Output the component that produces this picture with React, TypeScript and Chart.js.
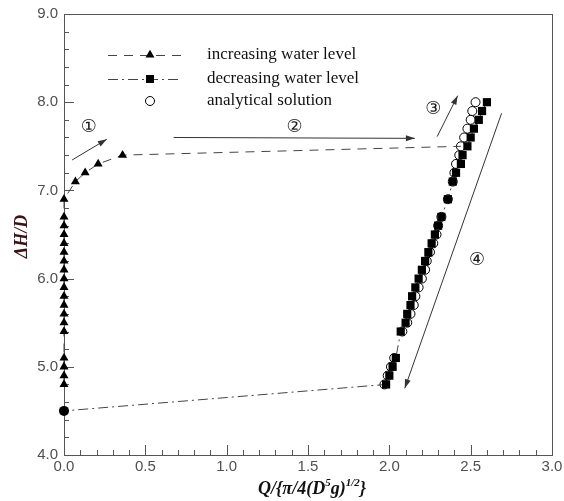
import React, { useEffect, useRef } from "react";
import { Chart, registerables } from "chart.js";

Chart.register(...registerables);

// ---- data ----
const increasingX = [0, 0, 0, 0, 0, 0, 0, 0, 0, 0, 0, 0, 0, 0, 0, 0, 0, 0, 0, 0.07, 0.13, 0.21, 0.36, 1.2, 2.44];
const increasingY = [4.8, 4.9, 5.0, 5.1, 5.4, 5.5, 5.6, 5.7, 5.8, 5.9, 6.0, 6.1, 6.2, 6.3, 6.4, 6.5, 6.6, 6.7, 6.9, 7.1, 7.2, 7.3, 7.4, 7.44, 7.5];
const increasingMarker = [1, 1, 1, 1, 1, 1, 1, 1, 1, 1, 1, 1, 1, 1, 1, 1, 1, 1, 1, 1, 1, 1, 1, 0, 0];

const decreasingX = [2.60, 2.57, 2.55, 2.52, 2.50, 2.48, 2.45, 2.44, 2.41, 2.39, 2.36, 2.32, 2.30, 2.28, 2.26, 2.24, 2.22, 2.20, 2.18, 2.16, 2.14, 2.13, 2.11, 2.10, 2.07, 2.04, 2.02, 2.00, 1.98, 0];
const decreasingY = [8.0, 7.9, 7.8, 7.7, 7.6, 7.5, 7.4, 7.3, 7.2, 7.1, 6.9, 6.7, 6.6, 6.5, 6.4, 6.3, 6.2, 6.1, 6.0, 5.9, 5.8, 5.7, 5.6, 5.5, 5.4, 5.1, 5.0, 4.9, 4.8, 4.5];

const analyticalX = [1.97, 1.99, 2.01, 2.03, 2.08, 2.11, 2.13, 2.15, 2.16, 2.18, 2.20, 2.22, 2.23, 2.25, 2.27, 2.29, 2.30, 2.32, 2.36, 2.39, 2.40, 2.41, 2.43, 2.44, 2.46, 2.48, 2.50, 2.51, 2.53];
const analyticalY = [4.8, 4.9, 5.0, 5.1, 5.4, 5.5, 5.6, 5.7, 5.8, 5.9, 6.0, 6.1, 6.2, 6.3, 6.4, 6.5, 6.6, 6.7, 6.9, 7.1, 7.2, 7.3, 7.4, 7.5, 7.6, 7.7, 7.8, 7.9, 8.0];

const xTickLabels = ["0.0", "0.5", "1.0", "1.5", "2.0", "2.5", "3.0"];
const yTickLabels = ["4.0", "5.0", "6.0", "7.0", "8.0", "9.0"];

const legendLabels = ["increasing water level", "decreasing water level", "analytical solution"];

// annotation arrows in data units: [x1, y1, x2, y2]
const arrowLines = [
  [0.05, 7.345, 0.263, 7.58],
  [0.674, 7.6, 2.157, 7.59],
  [2.294, 7.61, 2.42, 8.074],
  [2.69, 7.874, 2.095, 4.756],
];
const arrowLabels = ["①", "②", "③", "④"];
const arrowLabelX = [0.153, 1.418, 2.27, 2.54];
const arrowLabelY = [7.72, 7.71, 7.92, 6.21];

const toPts = (xs: number[], ys: number[]) => xs.map((x, i) => ({ x, y: ys[i] }));

const LINE_COLOR = "#444";
const AXIS_COLOR = "#555";
const TICK_LABEL_COLOR = "#505050";

function arrowHead(ctx: CanvasRenderingContext2D, x1: number, y1: number, x2: number, y2: number) {
  const ang = Math.atan2(y2 - y1, x2 - x1);
  const len = 9;
  const w = 3;
  ctx.beginPath();
  ctx.moveTo(x2, y2);
  ctx.lineTo(x2 - len * Math.cos(ang) + w * Math.sin(ang), y2 - len * Math.sin(ang) - w * Math.cos(ang));
  ctx.lineTo(x2 - len * Math.cos(ang) - w * Math.sin(ang), y2 - len * Math.sin(ang) + w * Math.cos(ang));
  ctx.closePath();
  ctx.fill();
}

const axesPlugin = {
  id: "customAxes",
  beforeDatasetsDraw(chart: any) {
    const ctx = chart.ctx as CanvasRenderingContext2D;
    const { left, right, top, bottom } = chart.chartArea;
    const xs = chart.scales.x;
    const ys = chart.scales.y;
    ctx.save();
    ctx.strokeStyle = AXIS_COLOR;
    ctx.lineWidth = 1;
    ctx.strokeRect(Math.round(left) + 0.5, Math.round(top) + 0.5, Math.round(right - left), Math.round(bottom - top));
    ctx.beginPath();
    for (let i = 0; i <= 30; i++) {
      const v = i / 10;
      const px = Math.round(xs.getPixelForValue(v)) + 0.5;
      const len = i % 5 === 0 ? 10 : 5;
      ctx.moveTo(px, bottom);
      ctx.lineTo(px, bottom - len);
    }
    for (let i = 0; i <= 25; i++) {
      const v = 4 + i * 0.2;
      const py = Math.round(ys.getPixelForValue(v)) + 0.5;
      const len = i % 5 === 0 ? 10 : 5;
      ctx.moveTo(left, py);
      ctx.lineTo(left + len, py);
    }
    ctx.stroke();

    ctx.fillStyle = TICK_LABEL_COLOR;
    ctx.font = "15px 'Liberation Sans', Arial, sans-serif";
    ctx.textAlign = "center";
    ctx.textBaseline = "top";
    xTickLabels.forEach((lab) => {
      const px = xs.getPixelForValue(parseFloat(lab));
      ctx.fillText(lab, px, bottom + 4);
    });
    ctx.textAlign = "right";
    ctx.textBaseline = "middle";
    yTickLabels.forEach((lab) => {
      const py = ys.getPixelForValue(parseFloat(lab));
      ctx.fillText(lab, left - 6, py);
    });

    ctx.fillStyle = "#111";
    const cx = (left + right) / 2;
    const base = 494;
    const big = "bold italic 18px 'Liberation Serif', 'Times New Roman', serif";
    const small = "bold italic 11px 'Liberation Serif', 'Times New Roman', serif";
    const parts: [string, string, number][] = [
      ["Q/{π/4(D", big, 0],
      ["5", small, -8],
      ["g)", big, 0],
      ["1/2", small, -8],
      ["}", big, 0],
    ];
    let total = 0;
    parts.forEach(([t, f]) => {
      ctx.font = f;
      total += ctx.measureText(t).width;
    });
    let x = cx - total / 2 + 4;
    ctx.textAlign = "left";
    ctx.textBaseline = "alphabetic";
    parts.forEach(([t, f, dy]) => {
      ctx.font = f;
      ctx.fillText(t, x, base + dy);
      x += ctx.measureText(t).width;
    });

    ctx.save();
    ctx.translate(22, (top + bottom) / 2 + 2);
    ctx.rotate(-Math.PI / 2);
    ctx.fillStyle = "#3a1418";
    ctx.font = big;
    ctx.textAlign = "center";
    ctx.textBaseline = "middle";
    ctx.fillText("ΔH/D", 0, 0);
    ctx.restore();
    ctx.restore();
  },
  afterDraw(chart: any) {
    const ctx = chart.ctx as CanvasRenderingContext2D;
    const xs = chart.scales.x;
    const ys = chart.scales.y;
    ctx.save();
    ctx.strokeStyle = "#333";
    ctx.fillStyle = "#333";
    ctx.lineWidth = 1;
    arrowLines.forEach(([x1, y1, x2, y2]) => {
      const p1x = xs.getPixelForValue(x1);
      const p1y = ys.getPixelForValue(y1);
      const p2x = xs.getPixelForValue(x2);
      const p2y = ys.getPixelForValue(y2);
      ctx.beginPath();
      ctx.moveTo(p1x, p1y);
      ctx.lineTo(p2x, p2y);
      ctx.stroke();
      arrowHead(ctx, p1x, p1y, p2x, p2y);
    });
    ctx.fillStyle = "#1a1a1a";
    ctx.font = "18px 'DejaVu Sans', 'Noto Sans CJK SC', sans-serif";
    ctx.textAlign = "center";
    ctx.textBaseline = "middle";
    arrowLabels.forEach((lab, i) => {
      ctx.fillText(lab, xs.getPixelForValue(arrowLabelX[i]), ys.getPixelForValue(arrowLabelY[i]));
    });

    const lx1 = 108;
    const lx2 = 182;
    const mx = 150;
    const rows = [55, 79, 101];
    ctx.strokeStyle = LINE_COLOR;
    ctx.lineWidth = 1;
    ctx.setLineDash([9, 7]);
    ctx.beginPath();
    ctx.moveTo(lx1, rows[0] + 0.5);
    ctx.lineTo(lx2, rows[0] + 0.5);
    ctx.stroke();
    ctx.setLineDash([10, 4, 2, 4]);
    ctx.beginPath();
    ctx.moveTo(lx1, rows[1] + 0.5);
    ctx.lineTo(lx2, rows[1] + 0.5);
    ctx.stroke();
    ctx.setLineDash([]);
    ctx.fillStyle = "#000";
    const r = 5.2;
    ctx.beginPath();
    ctx.moveTo(mx, rows[0] - r);
    ctx.lineTo(mx + r * 0.866, rows[0] + r / 2);
    ctx.lineTo(mx - r * 0.866, rows[0] + r / 2);
    ctx.closePath();
    ctx.fill();
    ctx.fillRect(mx - 4, rows[1] - 4, 8, 8);
    ctx.beginPath();
    ctx.arc(mx, rows[2], 4.5, 0, Math.PI * 2);
    ctx.fillStyle = "#fff";
    ctx.fill();
    ctx.strokeStyle = "#000";
    ctx.stroke();

    ctx.fillStyle = "#111";
    ctx.font = "17px 'Liberation Serif', 'Times New Roman', serif";
    ctx.textAlign = "left";
    ctx.textBaseline = "middle";
    legendLabels.forEach((t, i) => ctx.fillText(t, 207, rows[i]));
    ctx.restore();
  },
};

export default function App() {
  const ref = useRef<HTMLCanvasElement>(null);
  useEffect(() => {
    if (!ref.current) return;
    const chart = new Chart(ref.current, {
      type: "scatter",
      data: {
        datasets: [
          {
            label: legendLabels[1],
            data: toPts(decreasingX, decreasingY),
            showLine: true,
            clip: false,
            borderColor: LINE_COLOR,
            borderWidth: 1,
            borderDash: [10, 4, 2, 4],
            pointStyle: decreasingX.map((x) => (x === 0 ? "circle" : "rect")) as any,
            pointRadius: decreasingX.map((x) => (x === 0 ? 5 : 5.8)),
            pointBackgroundColor: "#000",
            pointBorderColor: "#000",
            pointBorderWidth: 0,
          },
          {
            label: legendLabels[0],
            data: toPts(increasingX, increasingY),
            showLine: true,
            clip: false,
            borderColor: LINE_COLOR,
            borderWidth: 1,
            borderDash: [9, 7],
            pointStyle: "triangle",
            pointRadius: increasingMarker.map((m) => (m ? 5.2 : 0)),
            pointBackgroundColor: "#000",
            pointBorderColor: "#000",
            pointBorderWidth: 0,
          },
          {
            label: legendLabels[2],
            data: toPts(analyticalX, analyticalY),
            showLine: false,
            clip: false,
            pointStyle: "circle",
            pointRadius: 4.5,
            pointBackgroundColor: "#fff",
            pointBorderColor: "#000",
            pointBorderWidth: 1,
          },
        ],
      },
      options: {
        responsive: false,
        animation: false,
        devicePixelRatio: 1,
        layout: { padding: { left: 64, top: 14, right: 12, bottom: 46 } },
        plugins: { legend: { display: false }, tooltip: { enabled: false } },
        scales: {
          x: { type: "linear", min: 0, max: 3, display: false },
          y: { type: "linear", min: 4, max: 9, display: false },
        },
      },
      plugins: [axesPlugin],
    });
    return () => chart.destroy();
  }, []);
  return (
    <div style={{ position: "absolute", left: 0, top: 0, width: 564, height: 501, background: "#fff" }}>
      <canvas ref={ref} width={564} height={501} />
    </div>
  );
}
